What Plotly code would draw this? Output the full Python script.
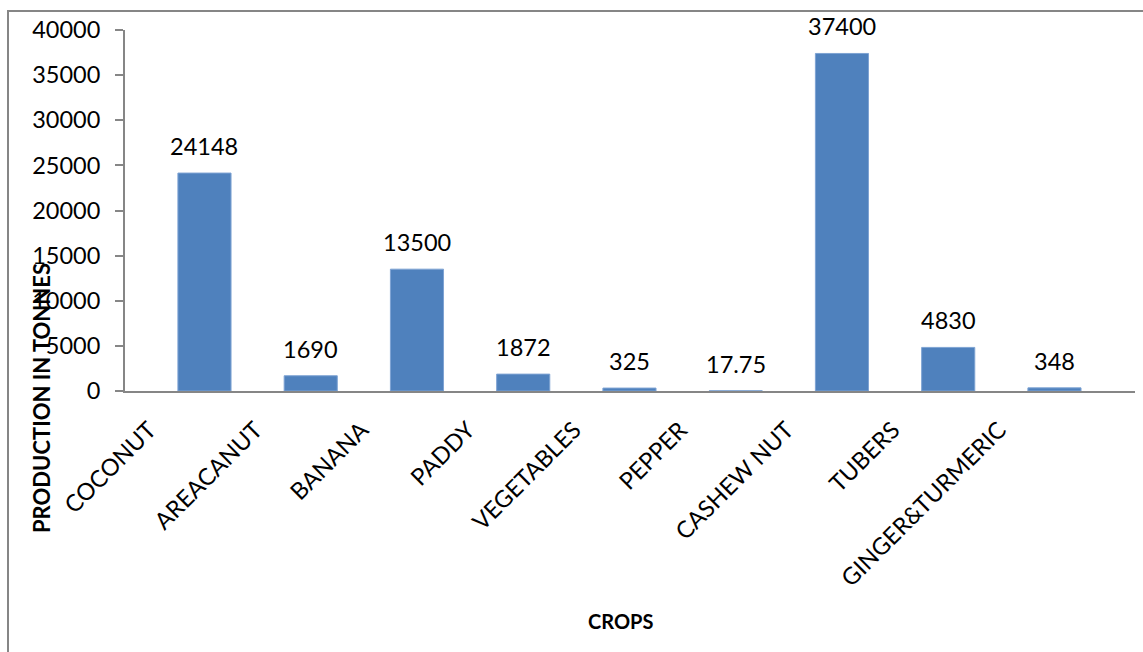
import plotly.graph_objects as go

crops = ["COCONUT", "AREACANUT", "BANANA", "PADDY", "VEGETABLES", "PEPPER",
         "CASHEW NUT", "TUBERS", "GINGER&TURMERIC"]
production = [24148, 1690, 13500, 1872, 325, 17.75, 37400, 4830, 348]
value_labels = ["24148", "1690", "13500", "1872", "325", "17.75", "37400", "4830", "348"]
y_ticks = [0, 5000, 10000, 15000, 20000, 25000, 30000, 35000, 40000]

FONT = "Lato"
FS = 23.5
xs = list(range(len(crops)))

fig = go.Figure()
fig.add_trace(go.Bar(
    x=xs, y=production, width=0.5,
    marker=dict(color="#4F81BD", line=dict(color="#7EA3D3", width=1)),
    hoverinfo="skip",
))

for xi, v, t in zip(xs, production, value_labels):
    fig.add_annotation(x=xi, y=v, text=t, showarrow=False, xanchor="center",
                       yanchor="bottom", yshift=11,
                       font=dict(family=FONT, size=FS, color="#000000"))

fig.update_layout(
    width=1143, height=652,
    margin=dict(l=125, r=8, t=30, b=261),
    plot_bgcolor="white", paper_bgcolor="white",
    showlegend=False,
    font=dict(family=FONT, size=FS, color="#000000"),
    xaxis=dict(
        range=[-0.748, 8.758],
        tickmode="array",
        tickvals=[i - 0.52 for i in xs],
        ticktext=crops,
        tickangle=-45,
        ticks="",
        ticklabelstandoff=14,
        showline=True, linecolor="#868686", linewidth=2,
        showgrid=False, zeroline=False,
        tickfont=dict(family=FONT, size=FS, color="#000000"),
    ),
    yaxis=dict(
        range=[0, 40000],
        tickmode="array",
        tickvals=y_ticks,
        ticktext=[str(v) for v in y_ticks],
        ticks="outside", ticklen=8, tickcolor="#868686", tickwidth=2,
        ticklabelstandoff=10,
        showline=True, linecolor="#868686", linewidth=2,
        showgrid=False, zeroline=False,
        tickfont=dict(family=FONT, size=FS, color="#000000"),
    ),
)

fig.add_annotation(xref="paper", yref="paper", x=(620 - 125) / 1010, y=(391 - 621) / 361,
                   text="<b>CROPS</b>", showarrow=False, xanchor="center", yanchor="middle",
                   font=dict(family=FONT, size=20, color="#000000"))
fig.add_annotation(xref="paper", yref="paper", x=(41 - 125) / 1010, y=(391 - 398) / 361,
                   text="<b>PRODUCTION IN TONNES</b>", showarrow=False, textangle=-90,
                   xanchor="center", yanchor="middle",
                   font=dict(family=FONT, size=22, color="#000000"))

# outer chart frame (left and top edges visible)
fx = (8 - 125) / 1010
fy_top = (391 - 11) / 361
fy_bot = (391 - 660) / 361
fig.add_shape(type="path", xref="paper", yref="paper",
              path=f"M {fx},{fy_bot} L {fx},{fy_top} L 1.2,{fy_top}",
              line=dict(color="#868686", width=2))

fig.write_html("out.html")
